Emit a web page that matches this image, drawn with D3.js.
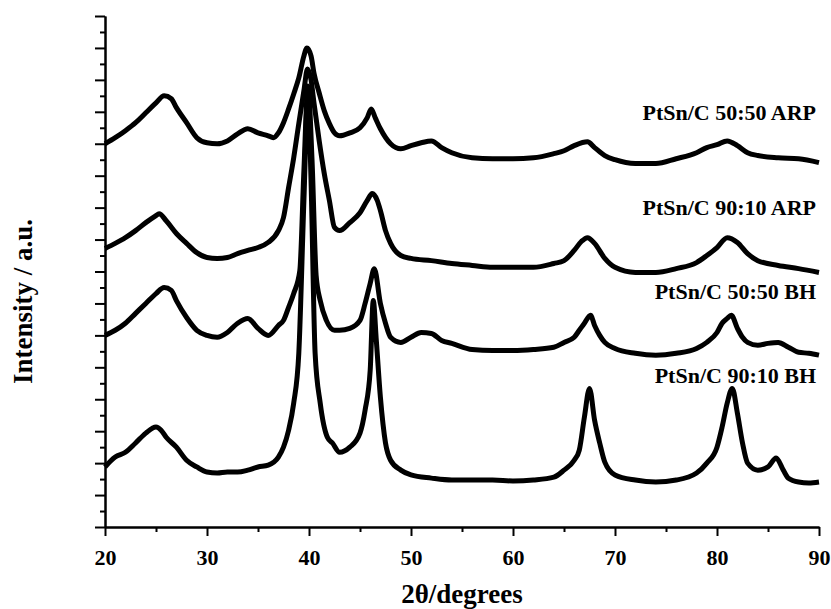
<!DOCTYPE html>
<html>
<head>
<meta charset="utf-8">
<script src="https://cdn.jsdelivr.net/npm/d3@7"></script>
<style>
  body { margin: 0; background: #fff; }
  text { font-family: "Liberation Serif", "Times New Roman", serif; font-weight: bold; }
</style>
</head>
<body>
<svg id="xrd" width="831" height="609"></svg>
<script>
// 2theta (degrees) and intensity (a.u.)
var arp5050_x = [20,21,22,23,24,25,25.8,26.5,27,28,29,30,31,32,33,34,35,36,36.5,37,37.5,38,38.5,39,39.5,39.8,40.2,40.5,41,41.5,42,42.5,43,44,45,45.7,46.1,46.5,47,48,49,50,51,52,53,54,56,58,60,62,64,65,66,67.3,68,69,70,72,74,76,78,79,80,81,82,83,84,86,88,90]
var arp5050_y = [12.00,12.19,12.41,12.66,12.97,13.28,13.50,13.41,13.13,12.66,12.19,12.03,12.00,12.09,12.31,12.47,12.34,12.25,12.19,12.34,12.66,13.09,13.56,14.06,14.75,15.00,14.75,14.19,13.59,13.03,12.63,12.34,12.25,12.34,12.50,12.81,13.09,12.81,12.47,12.00,11.84,11.94,12.03,12.09,11.88,11.72,11.56,11.53,11.53,11.56,11.69,11.78,11.94,12.06,11.88,11.63,11.50,11.38,11.38,11.53,11.72,11.88,11.97,12.09,11.94,11.72,11.63,11.56,11.53,11.41]

var arp9010_x = [20,21,22,23,24,25,25.3,26,27,28,29,30,31,32,33,34,35,36,37,37.5,38,38.5,39,39.5,39.85,40.2,40.5,41,41.5,42,42.5,43,44,45,45.7,46.2,46.7,47,47.5,48,49,50,52,54,56,58,60,62,64,65,66,66.7,67.3,68,69,70,72,74,76,78,79,80,81,82,83,84,86,88,90]
var arp9010_y = [8.72,8.88,9.06,9.28,9.53,9.75,9.81,9.59,9.19,8.88,8.59,8.44,8.41,8.44,8.56,8.66,8.75,8.91,9.28,9.69,10.63,11.56,12.63,13.66,14.34,14.00,13.25,12.09,11.06,10.22,9.38,9.28,9.53,9.84,10.22,10.44,10.22,9.91,9.28,8.88,8.50,8.41,8.34,8.25,8.19,8.13,8.13,8.13,8.25,8.34,8.66,8.94,9.06,8.88,8.41,8.13,7.97,7.97,8.09,8.28,8.50,8.75,9.06,8.91,8.56,8.34,8.19,8.09,7.97]

var bh5050_x = [20,21,22,23,24,25,25.8,26.5,27,28,29,30,31,32,33,34,35,36,37,37.5,38,38.5,39.1,39.5,39.9,40.3,40.7,41.1,41.7,42.5,43,44,45,45.5,46,46.4,47,47.5,48,49,50,51,52,53,54,56,58,60,62,64,65,66,66.5,67,67.6,68,68.5,69,70,72,74,76,78,79,80,80.5,81,81.4,82,82.5,83,84,85,86,87,88,89,90]
var bh5050_y = [6.00,6.16,6.38,6.69,7.00,7.31,7.50,7.41,7.09,6.56,6.16,6.00,5.94,6.09,6.38,6.53,6.22,6.00,6.31,6.47,6.88,7.31,8.03,11.16,13.81,11.47,7.88,7.09,6.47,6.16,6.16,6.22,6.47,7.00,7.63,8.09,7.00,6.38,5.94,5.78,5.94,6.09,6.06,5.84,5.75,5.56,5.53,5.53,5.56,5.63,5.78,5.94,6.16,6.38,6.63,6.31,6.00,5.78,5.59,5.44,5.38,5.44,5.59,5.78,6.09,6.38,6.53,6.63,6.22,5.94,5.78,5.69,5.75,5.78,5.63,5.47,5.44,5.38]

var bh9010_x = [20,21,22,23,24,25,25.5,26,27,28,29,30,31,32,33,34,35,36,37,37.5,38,38.5,39,39.5,39.9,40.2,40.6,41.1,41.8,42.3,43,44,45,45.5,46,46.3,46.6,47,47.5,48,49,50,52,54,56,58,60,62,64,65,66,66.5,67,67.5,68,68.5,69,70,72,74,76,78,79,80,80.5,81,81.5,82,82.5,83,84,85,85.8,86.5,87,88,89,90]
var bh9010_y = [1.88,2.19,2.34,2.63,2.94,3.13,3.03,2.81,2.50,2.09,1.88,1.72,1.69,1.72,1.72,1.78,1.88,1.94,2.19,2.50,3.03,3.88,5.44,10.22,13.66,10.84,5.44,3.88,2.81,2.63,2.34,2.50,2.94,3.66,4.91,7.09,5.84,4.06,2.63,2.09,1.78,1.63,1.53,1.47,1.47,1.47,1.44,1.47,1.56,1.78,2.09,2.41,3.44,4.34,3.34,2.63,2.03,1.63,1.47,1.41,1.47,1.69,2.00,2.50,3.13,3.88,4.34,3.56,2.63,2.00,1.78,1.88,2.16,1.78,1.53,1.41,1.38,1.41]

var seriesNames = ["PtSn/C 50:50 ARP", "PtSn/C 90:10 ARP", "PtSn/C 50:50 BH", "PtSn/C 90:10 BH"]
var xMajorTicks = [20, 30, 40, 50, 60, 70, 80, 90]
var xMinorTicks = [25, 35, 45, 55, 65, 75, 85]
var yMajorTicks = d3.range(0, 17, 1)
var yMinorTicks = d3.range(0.5, 16, 1)

// label baselines in pixels, one per series
var labelBaselines = [120, 215, 299, 383]

var drawAxes = function(svg, xScale, yScale, graph, margin) {

    var xMajor = d3.axisBottom(xScale).tickValues(xMajorTicks).tickSize(9).tickSizeOuter(0).tickPadding(13)
    var xMinor = d3.axisBottom(xScale).tickValues(xMinorTicks).tickSize(5).tickSizeOuter(0).tickFormat("")
    var yMajor = d3.axisLeft(yScale).tickValues(yMajorTicks).tickSize(10).tickSizeOuter(0).tickFormat("")
    var yMinor = d3.axisLeft(yScale).tickValues(yMinorTicks).tickSize(5).tickSizeOuter(0).tickFormat("")

    var bottom = margin.top + graph.height

    svg.append("g").attr("transform", "translate(0," + bottom + ")").call(xMinor)
    svg.append("g").attr("class", "axis-x").attr("transform", "translate(0," + bottom + ")").call(xMajor)
    svg.append("g").attr("transform", "translate(" + margin.left + ",0)").call(yMinor)
    svg.append("g").attr("class", "axis-y").attr("transform", "translate(" + margin.left + ",0)").call(yMajor)

    svg.selectAll(".domain, .tick line")
        .attr("stroke", "#000")
        .attr("stroke-width", 2)

    svg.selectAll(".axis-x .tick text")
        .style("font-size", "22px")
        .attr("fill", "#000")
}

var drawLines = function(svg, dataReady, xScale, yScale) {

    var line = d3.line()
        .x(function(d) { return xScale(d.x) })
        .y(function(d) { return yScale(d.y) })
        .curve(d3.curveMonotoneX)

    svg.selectAll("myLines")
        .data(dataReady)
        .enter()
        .append("path")
          .attr("d", function(d) { return line(d.values) })
          .attr("stroke", "#000")
          .attr("stroke-width", 5)
          .attr("stroke-linejoin", "round")
          .attr("fill", "none")

    svg.selectAll("myLabels")
        .data(dataReady)
        .enter()
        .append("text")
          .attr("x", 816)
          .attr("y", function(d, i) { return labelBaselines[i] })
          .attr("text-anchor", "end")
          .style("font-size", "22px")
          .text(function(d) { return d.name })
}

var drawLabels = function(svg, graph, margin) {
    svg.append("text")
        .attr("text-anchor", "middle")
        .attr("x", margin.left + graph.width / 2)
        .attr("y", 603)
        .style("font-size", "27px")
        .text("2θ/degrees")

    svg.append("text")
        .attr("text-anchor", "middle")
        .attr("transform", "translate(32," + (margin.top + graph.height / 2 + 30) + ") rotate(-90)")
        .style("font-size", "27px")
        .text("Intensity / a.u.")
}

var initGraph = function() {

    var screen = {width: 831, height: 609}
    var margin = {left: 105, right: 12, top: 16, bottom: 82}
    var graph = {
        width: screen.width - margin.left - margin.right,
        height: screen.height - margin.top - margin.bottom
    }

    var xs = [arp5050_x, arp9010_x, bh5050_x, bh9010_x]
    var ys = [arp5050_y, arp9010_y, bh5050_y, bh9010_y]

    var dataReady = seriesNames.map(function(name, i) {
        return {
            name: name,
            values: xs[i].map(function(x, j) { return {x: x, y: ys[i][j]} })
        }
    })

    var svg = d3.select("#xrd")

    svg.append("rect").attr("width", screen.width).attr("height", screen.height).attr("fill", "#fff")

    var xScale = d3.scaleLinear()
        .domain([20, 90])
        .range([margin.left, margin.left + graph.width])

    var yScale = d3.scaleLinear()
        .domain([0, 16])
        .range([margin.top + graph.height, margin.top])

    drawLines(svg, dataReady, xScale, yScale)
    drawAxes(svg, xScale, yScale, graph, margin)
    drawLabels(svg, graph, margin)
}

initGraph()
</script>
</body>
</html>
